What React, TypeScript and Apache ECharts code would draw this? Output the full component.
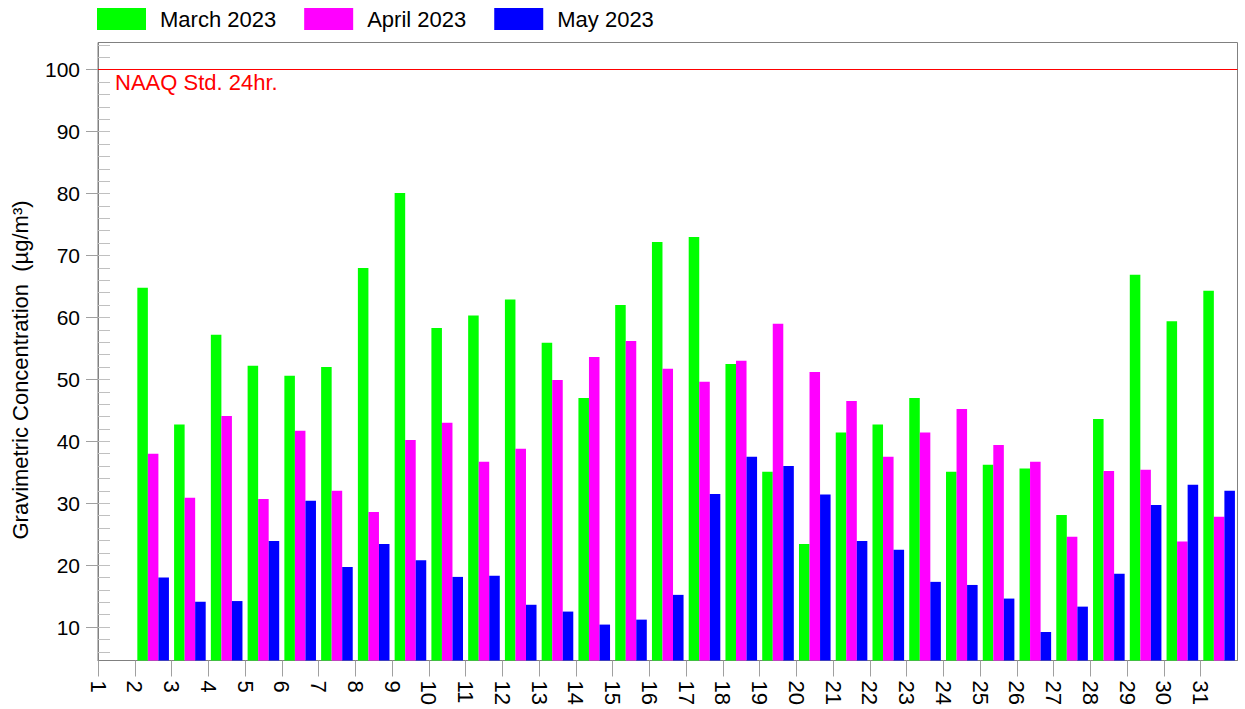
import React, { useEffect, useRef } from "react";
import * as echarts from "echarts";

const days = ["1","2","3","4","5","6","7","8","9","10","11","12","13","14","15","16","17","18","19","20","21","22","23","24","25","26","27","28","29","30","31"];
const tickLabels = ["1","2","3","4","5","6","7","8","9","10","11","12","13","14","15","16","17","18","19","20","21","22","23","24","25","26","27","28","29","30","31",""];

const march2023 = [null, 64.8, 42.7, 57.2, 52.2, 50.6, 52.0, 68.0, 80.1, 58.3, 60.3, 62.9, 55.9, 47.0, 62.0, 72.2, 73.0, 52.5, 35.1, 23.4, 41.4, 42.7, 47.0, 35.1, 36.2, 35.6, 28.1, 43.6, 66.9, 59.4, 64.3];
const april2023 = [null, 38.0, 30.9, 44.1, 30.7, 41.7, 32.0, 28.6, 40.2, 43.0, 36.7, 38.8, 49.9, 53.6, 56.2, 51.7, 49.6, 53.0, 59.0, 51.2, 46.5, 37.5, 41.4, 45.2, 39.4, 36.7, 24.6, 35.2, 35.4, 23.8, 27.8];
const may2023 = [null, 18.0, 14.1, 14.2, 23.9, 30.4, 19.7, 23.4, 20.8, 18.1, 18.3, 13.6, 12.5, 10.4, 11.2, 15.2, 31.5, 37.5, 36.0, 31.4, 23.9, 22.5, 17.3, 16.8, 14.6, 9.2, 13.3, 18.6, 29.7, 33.0, 32.0];

const yMajorTicks = [10, 20, 30, 40, 50, 60, 70, 80, 90, 100];
const yMinorTicks = [6, 8, 10, 12, 14, 16, 18, 20, 22, 24, 26, 28, 30, 32, 34, 36, 38, 40, 42, 44, 46, 48, 50, 52, 54, 56, 58, 60, 62, 64, 66, 68, 70, 72, 74, 76, 78, 80, 82, 84, 86, 88, 90, 92, 94, 96, 98, 100, 102, 104];
const yMin = 4.6;
const yMax = 104.4;
const naaqStd = 100;

const FONT = "'Liberation Sans', Arial, sans-serif";

export default function App() {
  const ref = useRef<HTMLDivElement>(null);
  useEffect(() => {
    if (!ref.current) return;
    const chart = echarts.init(ref.current, null, { renderer: "svg" });
    chart.setOption({
      animation: false,
      textStyle: { fontFamily: FONT },
      legend: {
        left: 97,
        top: 8,
        padding: 0,
        itemWidth: 49,
        itemHeight: 22,
        itemGap: 28,
        icon: "rect",
        textStyle: { fontSize: 22, color: "#000", fontFamily: FONT, padding: [0, 0, 0, 9] },
        data: ["March 2023", "April 2023", "May 2023"],
      },
      grid: {
        left: 98,
        top: 42.5,
        right: 7.5,
        bottom: 48.5,
        show: true,
        borderColor: "#808080",
        borderWidth: 1,
      },
      xAxis: [
        {
          type: "category",
          data: days,
          boundaryGap: true,
          axisLine: { show: true, onZero: false, lineStyle: { color: "#808080" } },
          axisTick: { show: false },
          axisLabel: { show: false },
          splitLine: { show: false },
        },
        {
          type: "category",
          data: tickLabels,
          boundaryGap: false,
          position: "bottom",
          axisLine: { show: false, onZero: false },
          axisTick: {
            show: true,
            length: 16,
            interval: (i: number) => i < tickLabels.length - 1,
            lineStyle: { color: "#a0a0a0" },
          },
          axisLabel: {
            interval: 0,
            rotate: -90,
            margin: 20,
            fontSize: 22,
            color: "#000",
            fontFamily: FONT,
          },
          splitLine: { show: false },
        },
      ],
      yAxis: [
        {
          type: "value",
          min: yMin,
          max: yMax,
          position: "left",
          axisLine: { show: true, lineStyle: { color: "#808080" } },
          axisTick: {
            show: true,
            inside: false,
            length: 12,
            customValues: yMajorTicks,
            lineStyle: { color: "#a0a0a0" },
          },
          axisLabel: {
            customValues: yMajorTicks,
            margin: 18,
            fontSize: 21,
            color: "#000",
            fontFamily: FONT,
          },
          splitLine: { show: false },
        },
        {
          type: "value",
          min: yMin,
          max: yMax,
          position: "left",
          axisLine: { show: false },
          axisTick: {
            show: true,
            inside: true,
            length: 12,
            customValues: yMinorTicks,
            lineStyle: { color: "#c0c0c0" },
          },
          axisLabel: { show: false },
          splitLine: { show: false },
        },
      ],
      graphic: [
        {
          type: "text",
          x: 20,
          y: 370,
          rotation: Math.PI / 2,
          style: {
            text: "Gravimetric Concentration  (µg/m³)",
            fontSize: 22,
            fontFamily: FONT,
            fill: "#000",
            align: "center",
            verticalAlign: "middle",
          },
        },
      ],
      series: [
        {
          name: "March 2023",
          type: "bar",
          data: march2023,
          xAxisIndex: 0,
          yAxisIndex: 0,
          itemStyle: { color: "#00ff00" },
          barGap: "0%",
          barCategoryGap: "14%",
        },
        {
          name: "April 2023",
          type: "bar",
          data: april2023,
          xAxisIndex: 0,
          yAxisIndex: 0,
          itemStyle: { color: "#ff00ff" },
          barGap: "0%",
          barCategoryGap: "14%",
        },
        {
          name: "May 2023",
          type: "bar",
          data: may2023,
          xAxisIndex: 0,
          yAxisIndex: 0,
          itemStyle: { color: "#0000ff" },
          barGap: "0%",
          barCategoryGap: "14%",
          markLine: {
            silent: true,
            symbol: ["none", "none"],
            z: 20,
            lineStyle: { color: "#ff0000", type: "solid", width: 1, opacity: 1 },
            label: {
              show: true,
              position: "insideStartBottom",
              formatter: "NAAQ Std. 24hr.",
              color: "#ff0000",
              fontSize: 22,
              fontFamily: FONT,
              distance: [17, 2],
            },
            data: [{ yAxis: naaqStd }],
          },
        },
      ],
    });
    return () => chart.dispose();
  }, []);
  return <div ref={ref} style={{ width: 1245, height: 709, position: "absolute", left: 0, top: 0 }} />;
}
